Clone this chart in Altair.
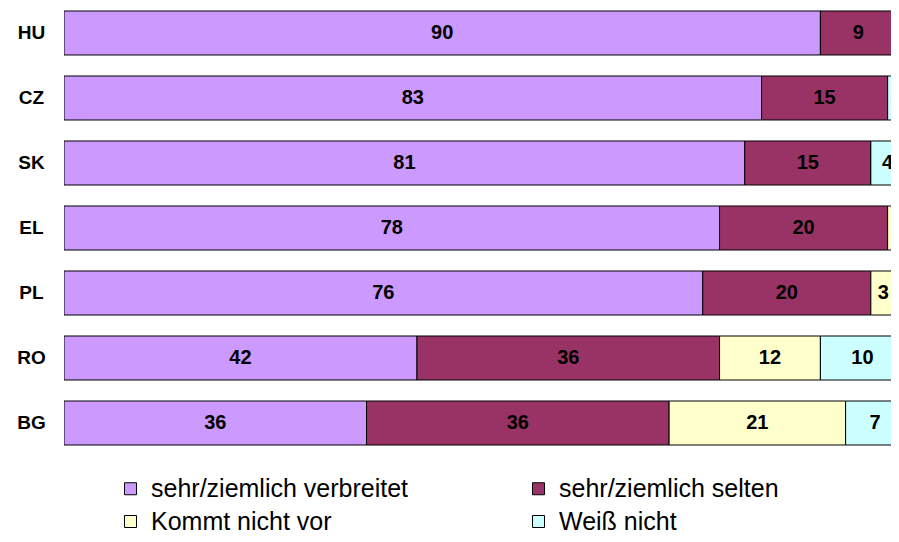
import altair as alt
import pandas as pd

countries = ["HU", "CZ", "SK", "EL", "PL", "RO", "BG"]
categories = ["sehr/ziemlich verbreitet", "sehr/ziemlich selten", "Kommt nicht vor", "Weiß nicht"]
colors = ["#CC99FF", "#993366", "#FFFFCC", "#CCFFFF"]

verbreitet = [90, 83, 81, 78, 76, 42, 36]
selten = [9, 15, 15, 20, 20, 36, 36]
kommt_nicht = [0, 0, 0, 2, 3, 12, 21]
weiss_nicht = [1, 2, 4, 0, 1, 10, 7]

series = [verbreitet, selten, kommt_nicht, weiss_nicht]
rows = []
for ci, cat in enumerate(categories):
    for c, v in zip(countries, series[ci]):
        rows.append({"country": c, "cat": cat, "idx": ci, "value": v})
df = pd.DataFrame(rows)

# legend is laid out column by column: order domain so rows read left-to-right
legend_order = [categories[0], categories[2], categories[1], categories[3]]
legend_colors = [colors[0], colors[2], colors[1], colors[3]]

FONT = "Liberation Sans"

base = alt.Chart(df).transform_stack(
    stack="value",
    groupby=["country"],
    as_=["x0", "x1"],
    sort=[alt.SortField("idx", order="ascending")],
)

yenc = alt.Y(
    "country:N",
    sort=countries,
    title=None,
    scale=alt.Scale(paddingInner=0.323, paddingOuter=0.046),
    axis=alt.Axis(
        ticks=False, domain=False, labelAlign="center", labelPadding=33,
        labelFont=FONT, labelFontSize=19, labelFontWeight="bold", labelColor="black",
    ),
)
xscale = alt.Scale(domain=[0, 98.4], nice=False, zero=True)

bars = base.mark_bar(stroke="black", strokeWidth=1, clip=True).encode(
    x=alt.X("x0:Q", scale=xscale, axis=None),
    x2="x1:Q",
    y=yenc,
    color=alt.Color(
        "cat:N",
        scale=alt.Scale(domain=legend_order, range=legend_colors),
        legend=alt.Legend(
            title=None, orient="none", legendX=54, legendY=468, columns=2,
            symbolType="square", symbolSize=144, symbolStrokeColor="black",
            symbolStrokeWidth=1, labelFont=FONT, labelFontSize=25, labelColor="black",
            labelLimit=400, labelOffset=8, columnPadding=117, rowPadding=7, padding=0,
        ),
    ),
)

labels = base.transform_filter("datum.value > 0").transform_calculate(
    mid="(datum.x0 + datum.x1) / 2"
).mark_text(
    font=FONT, fontSize=20, fontWeight="bold", color="black", clip=True, baseline="middle"
).encode(
    x=alt.X("mid:Q", scale=xscale, axis=None),
    y=alt.Y("country:N", sort=countries),
    text="value:Q",
)

chart = alt.layer(bars, labels).properties(
    width=827, height=440,
    autosize=alt.AutoSizeParams(type="none"),
    padding={"left": 56, "top": 0, "right": 0, "bottom": 84},
).configure_view(stroke=None)

chart.save("out.html", embed_options={"renderer": "svg", "actions": False})
